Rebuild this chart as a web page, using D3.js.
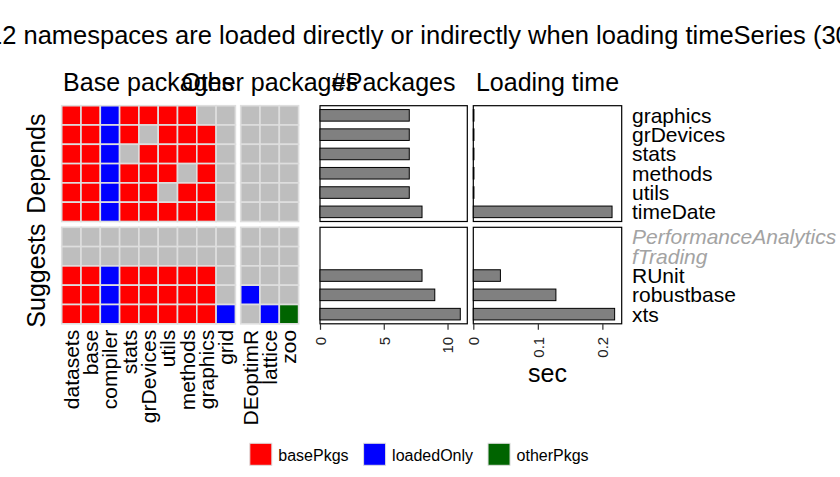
<!DOCTYPE html>
<html>
<head>
<meta charset="utf-8">
<script src="https://cdn.jsdelivr.net/npm/d3@7"></script>
<style>
  body { margin: 0; background: #fff; }
  text { font-family: "Liberation Sans", Arial, Helvetica, sans-serif; }
</style>
</head>
<body>
<svg id="chart" width="840" height="477"></svg>
<script>
// packages (columns of the heat map)
var basePkgs = ["datasets", "base", "compiler", "stats", "grDevices", "utils", "methods", "graphics", "grid"];
var otherPkgs = ["DEoptimR", "lattice", "zoo"];

// dependencies (rows)
var dependsPkgs = ["graphics", "grDevices", "stats", "methods", "utils", "timeDate"];
var suggestsPkgs = ["PerformanceAnalytics", "fTrading", "RUnit", "robustbase", "xts"];
var notInstalled = ["PerformanceAnalytics", "fTrading"];

// B = basePkgs, L = loadedOnly, O = otherPkgs, - = not loaded
var dependsStatus = [
  ["B", "B", "L", "B", "B", "B", "B", "-", "-", "-", "-", "-"],
  ["B", "B", "L", "B", "-", "B", "B", "B", "-", "-", "-", "-"],
  ["B", "B", "L", "-", "B", "B", "B", "B", "-", "-", "-", "-"],
  ["B", "B", "L", "B", "B", "B", "-", "B", "-", "-", "-", "-"],
  ["B", "B", "L", "B", "B", "-", "B", "B", "-", "-", "-", "-"],
  ["B", "B", "L", "B", "B", "B", "B", "B", "-", "-", "-", "-"]
];
var suggestsStatus = [
  ["-", "-", "-", "-", "-", "-", "-", "-", "-", "-", "-", "-"],
  ["-", "-", "-", "-", "-", "-", "-", "-", "-", "-", "-", "-"],
  ["B", "B", "L", "B", "B", "B", "B", "B", "-", "-", "-", "-"],
  ["B", "B", "L", "B", "B", "B", "B", "B", "-", "L", "-", "-"],
  ["B", "B", "L", "B", "B", "B", "B", "B", "L", "-", "L", "O"]
];

// number of packages loaded and loading time (sec)
var dependsCount = [7, 7, 7, 7, 7, 8];
var suggestsCount = [null, null, 8, 9, 11];
var dependsTime = [0.001, 0.001, 0.001, 0.001, 0.001, 0.215];
var suggestsTime = [null, null, 0.042, 0.128, 0.219];

var countTicks = [0, 5, 10];
var timeTicks = [0, 0.1, 0.2];

var legendKeys = ["B", "L", "O"];
var legendLabels = ["basePkgs", "loadedOnly", "otherPkgs"];

var title = "12 namespaces are loaded directly or indirectly when loading timeSeries (300 ms)";

(function (window, d3) {
  'use strict';

  var svg = d3.select("#chart");
  var unit = 19.3;
  var fills = { "B": "#ff0000", "L": "#0000ff", "O": "#006400", "-": "#bebebe" };

  var colFacets = [
    { name: "Base packages", pkgs: basePkgs, x0: 61.7, offset: 0 },
    { name: "Other packages", pkgs: otherPkgs, x0: 240.7, offset: basePkgs.length }
  ];
  var rowFacets = [
    { name: "Depends", pkgs: dependsPkgs, status: dependsStatus, count: dependsCount, time: dependsTime, y0: 105.7 },
    { name: "Suggests", pkgs: suggestsPkgs, status: suggestsStatus, count: suggestsCount, time: suggestsTime, y0: 227.3 }
  ];

  colFacets.forEach(function (cf) {
    cf.scale = d3.scaleBand().domain(cf.pkgs).range([cf.x0, cf.x0 + cf.pkgs.length * unit]);
  });
  rowFacets.forEach(function (rf) {
    rf.scale = d3.scaleBand().domain(rf.pkgs).range([rf.y0, rf.y0 + rf.pkgs.length * unit]);
    rf.bars = d3.scaleBand().domain(rf.pkgs).range(rf.scale.range()).paddingInner(0.4).paddingOuter(0.2);
  });

  var bottom = rowFacets[1].scale.range()[1];

  // title (wider than the page, first digit falls off the left edge)
  svg.append("text")
    .attr("x", -12)
    .attr("y", 44)
    .attr("font-size", 25.5)
    .text(title);

  // heat map cells
  var cells = [];
  rowFacets.forEach(function (rf) {
    rf.pkgs.forEach(function (rowPkg, i) {
      colFacets.forEach(function (cf) {
        cf.pkgs.forEach(function (colPkg, j) {
          cells.push({ rf: rf, cf: cf, row: rowPkg, col: colPkg, status: rf.status[i][cf.offset + j] });
        });
      });
    });
  });

  svg.append("g").attr("class", "cells")
    .selectAll("rect").data(cells).enter().append("rect")
    .attr("x", function (d) { return d.cf.scale(d.col); })
    .attr("y", function (d) { return d.rf.scale(d.row); })
    .attr("width", unit)
    .attr("height", unit)
    .attr("fill", function (d) { return fills[d.status]; })
    .attr("stroke", "#dedede")
    .attr("stroke-width", 1.6);

  // column strip titles
  colFacets.forEach(function (cf) {
    var r = cf.scale.range();
    svg.append("text")
      .attr("x", (r[0] + r[1]) / 2)
      .attr("y", 91)
      .attr("text-anchor", "middle")
      .attr("font-size", 25)
      .text(cf.name);

    // package names under the heat map
    svg.append("g").selectAll("text").data(cf.pkgs).enter().append("text")
      .attr("transform", function (d) {
        return "translate(" + (cf.scale(d) + unit / 2) + "," + (bottom + 6) + ") rotate(-90)";
      })
      .attr("dy", "0.35em")
      .attr("text-anchor", "end")
      .attr("font-size", 21)
      .text(function (d) { return d; });
  });

  // row strip labels
  rowFacets.forEach(function (rf) {
    var r = rf.scale.range();
    svg.append("text")
      .attr("transform", "translate(45," + ((r[0] + r[1]) / 2) + ") rotate(-90)")
      .attr("text-anchor", "middle")
      .attr("font-size", 25)
      .text(rf.name);
  });

  // bar panels
  var barPanels = [
    { name: "#Packages", key: "count", x0: 320, width: 147.3, ticks: countTicks, max: 11, fmt: d3.format("d"), label: "" },
    { name: "Loading time", key: "time", x0: 473.3, width: 148.4, ticks: timeTicks, max: 0.219, fmt: function (d) { return d === 0 ? "0" : d3.format(".1f")(d); }, label: "sec" }
  ];

  barPanels.forEach(function (bp) {
    var x = d3.scaleLinear().domain([0, bp.max * 1.05]).range([bp.x0, bp.x0 + bp.width]);

    rowFacets.forEach(function (rf) {
      var r = rf.scale.range();
      var g = svg.append("g").attr("class", "bar-panel");

      g.append("rect")
        .attr("x", bp.x0)
        .attr("y", r[0])
        .attr("width", bp.width)
        .attr("height", r[1] - r[0])
        .attr("fill", "#fff")
        .attr("stroke", "#000")
        .attr("stroke-width", 1.2);

      var rows = rf.pkgs.map(function (p, i) { return { pkg: p, val: rf[bp.key][i] }; })
        .filter(function (d) { return d.val !== null; });

      g.selectAll(".bar").data(rows).enter().append("rect")
        .attr("class", "bar")
        .attr("x", x(0))
        .attr("y", function (d) { return rf.bars(d.pkg); })
        .attr("width", function (d) { return x(d.val) - x(0); })
        .attr("height", rf.bars.bandwidth())
        .attr("fill", "#808080")
        .attr("stroke", "#000")
        .attr("stroke-width", 1);
    });

    svg.append("text")
      .attr("x", bp.x0 + bp.width / 2)
      .attr("y", 91)
      .attr("text-anchor", "middle")
      .attr("font-size", 25)
      .text(bp.name);

    var axis = svg.append("g")
      .attr("transform", "translate(0," + bottom + ")")
      .call(d3.axisBottom(x).tickValues(bp.ticks).tickSize(6).tickFormat(bp.fmt));
    axis.select(".domain").remove();
    axis.selectAll(".tick line").attr("stroke", "#333").attr("stroke-width", 1.2);
    axis.selectAll(".tick text")
      .attr("transform", "rotate(-90)")
      .attr("x", -13)
      .attr("y", 0)
      .attr("dy", "0.35em")
      .attr("text-anchor", "end")
      .attr("font-size", 15)
      .attr("font-family", null)
      .attr("fill", "#222");

    if (bp.label) {
      svg.append("text")
        .attr("x", bp.x0 + bp.width / 2)
        .attr("y", 381.7)
        .attr("text-anchor", "middle")
        .attr("font-size", 25)
        .text(bp.label);
    }
  });

  // row labels on the right
  rowFacets.forEach(function (rf) {
    svg.append("g").selectAll("text").data(rf.pkgs).enter().append("text")
      .attr("x", 632)
      .attr("y", function (d) { return rf.scale(d) + unit / 2; })
      .attr("dy", "0.35em")
      .attr("font-size", 21)
      .attr("fill", function (d) { return notInstalled.indexOf(d) >= 0 ? "#a3a3a3" : "#000"; })
      .attr("font-style", function (d) { return notInstalled.indexOf(d) >= 0 ? "italic" : "normal"; })
      .text(function (d) { return d; });
  });

  // legend
  var legend = svg.append("g").attr("class", "legend");
  var lx = 0;
  legendKeys.forEach(function (k, i) {
    var item = legend.append("g").attr("transform", "translate(" + lx + ",0)");
    item.append("rect")
      .attr("width", 22).attr("height", 22)
      .attr("fill", fills[k])
      .attr("stroke", "#dedede")
      .attr("stroke-width", 1);
    var t = item.append("text")
      .attr("x", 28.5)
      .attr("y", 17.7)
      .attr("font-size", 16)
      .text(legendLabels[i]);
    lx += 28.5 + t.node().getComputedTextLength() + 15;
  });
  var legendWidth = lx - 15;
  legend.attr("transform", "translate(" + (419.2 - legendWidth / 2) + ",443.3)");

})(window, window.d3);
</script>
</body>
</html>
